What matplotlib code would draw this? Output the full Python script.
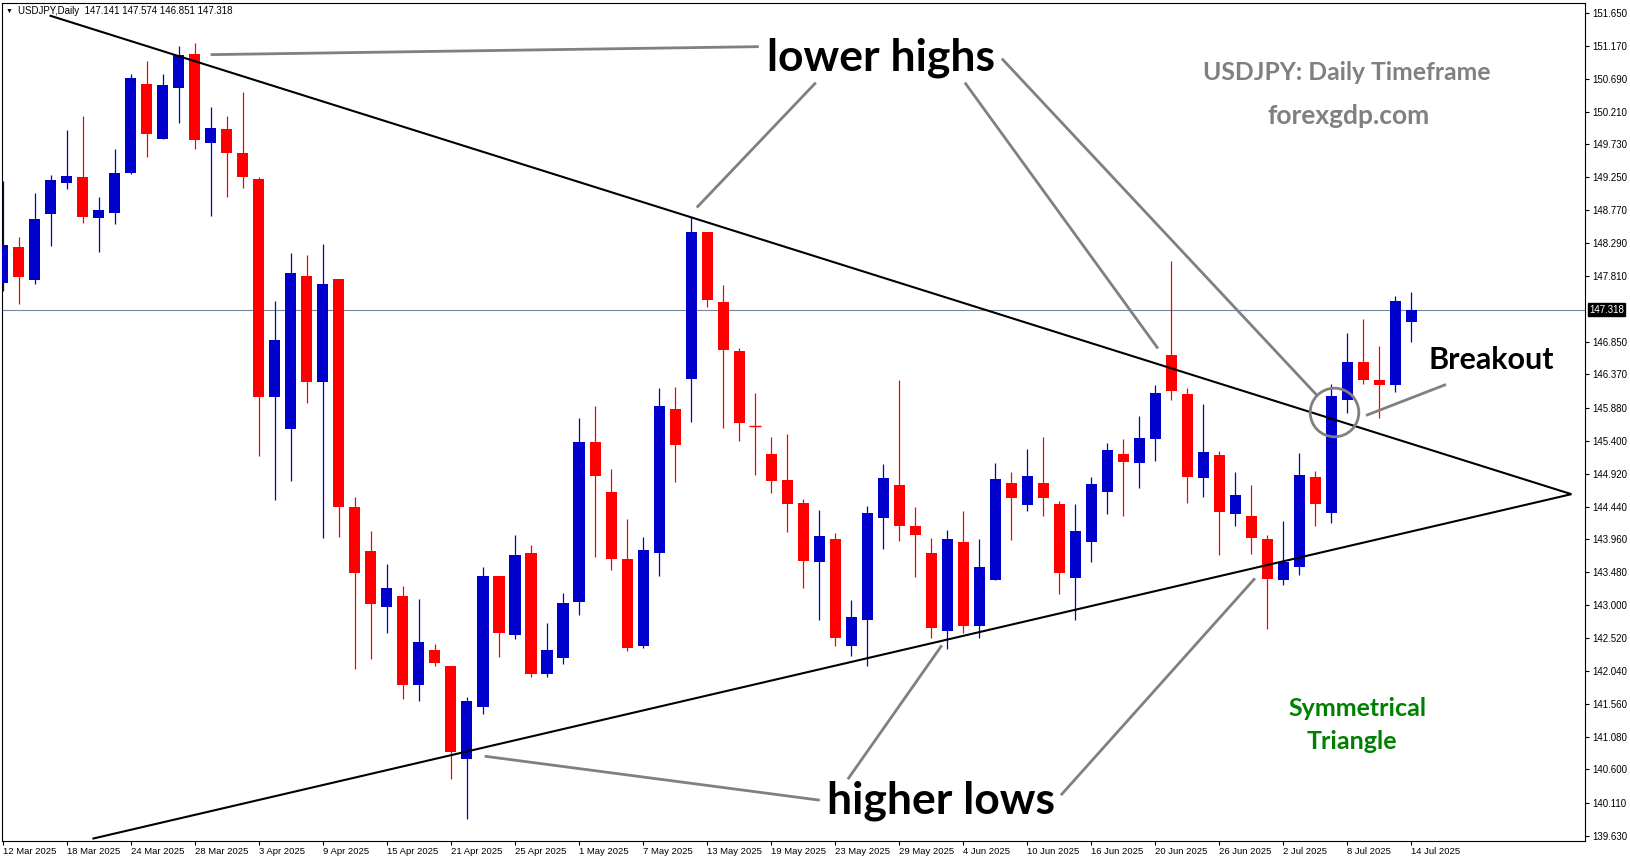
import matplotlib
matplotlib.use("Agg")
import matplotlib.pyplot as plt

# USDJPY daily candles, 12 Mar 2025 .. 14 Jul 2025
opens = [147.711, 148.232, 147.750, 148.719, 149.171, 149.255, 148.660, 148.733, 149.318, 150.613,
         149.814, 150.559, 151.051, 149.756, 149.956, 149.605, 149.225, 146.038, 145.570, 147.815,
         146.260, 147.771, 144.433, 143.788, 142.966, 143.130, 141.828, 142.346, 142.112, 140.759,
         141.505, 143.428, 142.571, 143.763, 141.987, 142.235, 143.053, 145.385, 144.654, 143.676,
         142.410, 143.768, 145.866, 146.310, 148.452, 147.429, 146.714, 145.613, 145.209, 144.830,
         144.494, 143.623, 143.968, 142.410, 142.790, 144.280, 144.757, 144.158, 143.764, 142.629,
         143.924, 142.688, 143.360, 144.786, 144.470, 144.786, 144.479, 143.403, 143.915, 144.659,
         145.210, 145.083, 145.429, 146.655, 146.086, 144.864, 145.195, 144.338, 144.304, 143.968,
         143.374, 143.564, 144.874, 144.353, 146.003, 146.553, 146.290, 146.222, 147.141]
highs = [149.196, 148.378, 149.021, 149.284, 149.941, 150.146, 148.963, 149.664, 150.759, 150.949,
         150.759, 151.168, 151.212, 150.277, 150.146, 150.496, 149.250, 147.436, 148.150, 148.118,
         148.277, 147.771, 144.578, 144.079, 143.598, 143.276, 143.086, 142.435, 142.112, 141.657,
         143.559, 143.428, 144.026, 143.880, 142.741, 143.179, 145.735, 145.910, 144.990, 144.260,
         143.997, 146.173, 146.188, 148.670, 148.452, 147.678, 146.757, 146.100, 145.458, 145.501,
         144.552, 144.392, 144.056, 143.077, 144.450, 145.064, 146.290, 144.436, 143.983, 144.100,
         144.377, 143.968, 145.078, 144.947, 145.283, 145.458, 144.523, 144.479, 144.874, 145.370,
         145.429, 145.765, 146.217, 148.028, 146.174, 145.940, 145.253, 144.947, 144.757, 144.027,
         144.231, 145.224, 144.961, 146.232, 146.977, 147.181, 146.787, 147.517, 147.574]
lows = [147.594, 147.400, 147.692, 148.247, 149.080, 148.587, 148.164, 148.573, 149.299, 149.551,
        149.810, 150.048, 149.668, 148.690, 148.967, 149.099, 145.179, 144.540, 144.818, 145.950,
        143.984, 143.996, 142.062, 142.213, 142.586, 141.632, 141.606, 142.106, 140.456, 139.874,
        141.417, 142.249, 142.512, 141.957, 141.943, 142.133, 142.863, 143.710, 143.520, 142.337,
        142.381, 143.432, 144.805, 145.682, 147.361, 145.594, 145.404, 144.907, 144.645, 144.075,
        143.257, 142.776, 142.396, 142.250, 142.110, 143.827, 143.944, 143.418, 142.513, 142.352,
        142.586, 142.513, 143.360, 143.958, 144.382, 144.309, 143.170, 142.776, 143.637, 144.324,
        144.309, 144.718, 145.107, 146.003, 144.499, 144.586, 143.739, 144.163, 143.754, 142.658,
        143.301, 143.433, 144.163, 144.207, 145.813, 146.237, 145.740, 146.120, 146.851]
closes = [148.262, 147.799, 148.641, 149.211, 149.270, 148.675, 148.773, 149.313, 150.701, 149.887,
          150.598, 151.037, 149.799, 149.970, 149.610, 149.259, 146.038, 146.879, 147.853, 146.260,
          147.695, 144.439, 143.472, 143.010, 143.250, 141.840, 142.460, 142.150, 140.848, 141.600,
          143.428, 142.600, 143.734, 141.987, 142.347, 143.033, 145.385, 144.893, 143.681, 142.381,
          143.807, 145.910, 145.346, 148.452, 147.463, 146.733, 145.667, 145.613, 144.820, 144.484,
          143.652, 144.012, 142.527, 142.829, 144.348, 144.859, 144.163, 144.031, 142.673, 143.968,
          142.702, 143.559, 144.844, 144.572, 144.888, 144.572, 143.476, 144.085, 144.771, 145.268,
          145.098, 145.443, 146.100, 146.135, 144.879, 145.239, 144.367, 144.611, 143.988, 143.389,
          143.632, 144.903, 144.484, 146.057, 146.553, 146.295, 146.222, 147.444, 147.318]

date_labels = ['12 Mar 2025', '18 Mar 2025', '24 Mar 2025', '28 Mar 2025', '3 Apr 2025',
               '9 Apr 2025', '15 Apr 2025', '21 Apr 2025', '25 Apr 2025', '1 May 2025',
               '7 May 2025', '13 May 2025', '19 May 2025', '23 May 2025', '29 May 2025',
               '4 Jun 2025', '10 Jun 2025', '16 Jun 2025', '20 Jun 2025', '26 Jun 2025',
               '2 Jul 2025', '8 Jul 2025', '14 Jul 2025']
price_ticks = [151.650, 151.170, 150.690, 150.210, 149.730, 149.250, 148.770, 148.290, 147.810,
               146.850, 146.370, 145.880, 145.400, 144.920, 144.440, 143.960, 143.480, 143.000,
               142.520, 142.040, 141.560, 141.080, 140.600, 140.110, 139.630]
last_price = 147.318

# triangle trendlines (bar index, price)
upper_line = [(2.92, 151.613), (98.0, 144.621)]
lower_line = [(5.6, 139.588), (98.0, 144.621)]

BULL = '#0000CD'
BEAR = '#FF0000'
GREY = '#808080'
TXT_FONT = ['Lato', 'DejaVu Sans']
SMALL_FONT = ['Liberation Sans', 'DejaVu Sans']


def px(x, y):
    # pixel position of the reference picture -> (bar index, price)
    return (x - 3.3) / 16.0, 151.65 - (y - 13.3) / 68.5


fig = plt.figure(figsize=(16.31, 8.61), dpi=100)
W, H = 1631.0, 861.0
ax = fig.add_axes([2 / W, 1 - 840.5 / H, 1583 / W, 837.8 / H])
ax.set_xlim(-0.05, 98.85)
ax.set_ylim(139.562, 151.80)

# candles
for i in range(len(opens)):
    o, h, l, c = opens[i], highs[i], lows[i], closes[i]
    col = BULL if c > o else BEAR
    ax.vlines(i, l, h, color=col, lw=0.9, zorder=2)
    if abs(c - o) < 0.01:
        ax.hlines(o, i - 0.36, i + 0.36, color=col, lw=1.0, zorder=3)
    else:
        ax.bar(i, abs(c - o), bottom=min(o, c), width=0.69, color=col, linewidth=0, zorder=3)

# last price line
ax.axhline(last_price, color='#778899', lw=0.8, zorder=1)

# trendlines
for ln in (upper_line, lower_line):
    ax.plot([ln[0][0], ln[1][0]], [ln[0][1], ln[1][1]], color='black', lw=1.5, zorder=4,
            solid_capstyle='butt')

# grey pointer lines
pointers = [
    ((759, 47), (211, 55)),
    ((816, 83), (697, 208)),
    ((965, 83), (1158, 349)),
    ((1002, 59), (1318, 397)),
    ((1446, 385), (1366, 416)),
    ((820, 801), (485, 757)),
    ((848, 780), (942, 646)),
    ((1061, 796), (1255, 579)),
]
for a, b in pointers:
    xa, ya = px(*a)
    xb, yb = px(*b)
    ax.plot([xa, xb], [ya, yb], color=GREY, lw=2.0, zorder=5, solid_capstyle='butt')

cx, cy = px(1333.7, 412.3)
ax.plot(cx, cy, 'o', ms=35, mfc='none', mec=GREY, mew=2.0, zorder=5)

# texts
def label(x, y, s, size, color='black'):
    tx, ty = px(x, y)
    ax.text(tx, ty, s, fontsize=size, color=color, fontweight='bold', family=TXT_FONT,
            ha='center', va='baseline', zorder=6)


label(881, 70.5, 'lower highs', 32)
label(941, 814, 'higher lows', 32)
label(1491, 370, 'Breakout', 22)
label(1347, 80, 'USDJPY: Daily Timeframe', 17.8, GREY)
label(1349, 124, 'forexgdp.com', 19, GREY)
label(1358, 717, 'Symmetrical', 18, '#008000')
label(1352, 750, 'Triangle', 18, '#008000')

fig.text(9 / W, 1 - 11.5 / H, '\u25bc', fontsize=5, family=SMALL_FONT, ha='center', va='center')
fig.text(18 / W, 1 - 11.5 / H, 'USDJPY,Daily  147.141 147.574 146.851 147.318', fontsize=7,
         family=SMALL_FONT, ha='left', va='center')

# axes styling
for sp in ax.spines.values():
    sp.set_color('black')
    sp.set_linewidth(0.8)
ax.yaxis.tick_right()
ax.set_yticks(price_ticks)
ax.set_yticklabels(['%.3f' % v for v in price_ticks])
ax.tick_params(axis='y', direction='out', length=3, width=0.8, pad=2, labelsize=7)
ax.set_xticks(list(range(0, len(opens), 4)))
ax.set_xticklabels(date_labels)
ax.tick_params(axis='x', direction='out', length=3, width=0.8, pad=2, labelsize=6.8)
for t in ax.get_xticklabels():
    t.set_horizontalalignment('left')
    t.set_family(SMALL_FONT)
for t in ax.get_yticklabels():
    t.set_family(SMALL_FONT)

ax.annotate('%.3f' % last_price, xy=(1.0, last_price), xycoords=('axes fraction', 'data'),
            xytext=(3, 0), textcoords='offset points', fontsize=7, color='white',
            family=SMALL_FONT, ha='left', va='center', zorder=10,
            bbox=dict(boxstyle='square,pad=0.15', fc='black', ec='black'))

fig.savefig('out.png', dpi=100, facecolor='white')
